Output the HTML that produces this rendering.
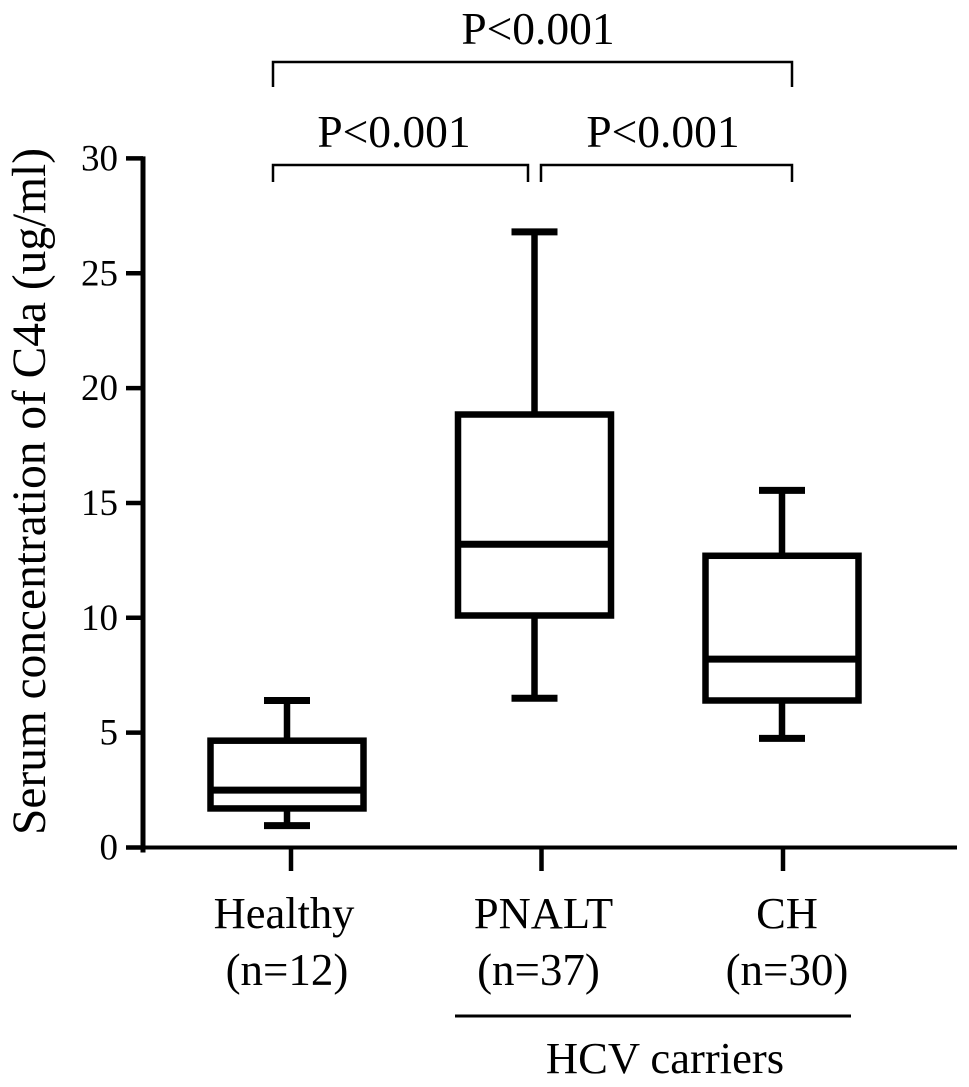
<!DOCTYPE html>
<html><head><meta charset="utf-8"><title>Serum C4a box plot</title>
<style>html,body{margin:0;padding:0;background:#fff}svg{display:block}text{font-family:"Liberation Serif",serif;fill:#000}</style></head>
<body>
<svg id="chart" xmlns="http://www.w3.org/2000/svg" width="969" height="1087" viewBox="0 0 969 1087"></svg>
<script>
const categories = ["Healthy", "PNALT", "CH"];
const sampleLabels = ["(n=12)", "(n=37)", "(n=30)"];
const whiskerLow = [0.95, 6.5, 4.75];
const quartile1 = [1.7, 10.1, 6.4];
const medians = [2.5, 13.2, 8.2];
const quartile3 = [4.65, 18.85, 12.7];
const whiskerHigh = [6.4, 26.8, 15.55];
const yTicks = [0, 5, 10, 15, 20, 25, 30];
const pLabels = ["P<0.001", "P<0.001", "P<0.001"];

const svg = document.getElementById('chart');
const NS = 'http://www.w3.org/2000/svg';
const y = v => 847.5 - v * 22.97;
const x = i => 287 + i * 247.5;
const tickX = i => x(i) + (i === 0 ? 4 : i === 1 ? 7 : 1);
const nameX = i => x(i) + (i === 0 ? -3 : i === 1 ? 9 : 5);
const sampleX = i => x(i) + (i === 0 ? 0 : i === 1 ? 4 : 5);
function add(tag, attrs, name, parent) {
  const el = document.createElementNS(NS, tag);
  for (const k in attrs) el.setAttribute(k, attrs[k]);
  
  
  (parent || svg).appendChild(el);
  return el;
}
function line(x1, y1, x2, y2, w, name, parent) {
  return add('line', {x1, y1, x2, y2, stroke: '#000', 'stroke-width': w}, name, parent);
}
function text(str, tx, ty, size, anchor, name, parent) {
  const t = add('text', {x: tx, y: ty, 'font-size': size, 'text-anchor': anchor}, name, parent);
  t.textContent = str;
  return t;
}

/* axes */
line(143, y(30) - 2, 143, y(0) + 5, 5, 'y-axis-line');
line(126, y(0), 957, y(0), 4, 'x-axis-line');
yTicks.forEach(v => {
  line(126, y(v), 143, y(v), 4.5, 'y-tick-' + v);
  text(String(v), 118, y(v) + 12, 37, 'end', 'y-tick-label-' + v);
});
const yTitle = text('Serum concentration of C4a (ug/ml)', 0, 0, 47.4, 'middle', 'y-axis-title');
yTitle.setAttribute('transform', 'translate(45,491.5) rotate(-90)');

/* boxes */
categories.forEach((c, i) => {
  const g = add('g', {}, 'box-' + c.toLowerCase());
  const cx = x(i), hw = 76.5, cap = 23;
  line(cx, y(whiskerHigh[i]), cx, y(quartile3[i]), 6.5, 'whisker-upper', g);
  line(cx, y(quartile1[i]), cx, y(whiskerLow[i]), 6.5, 'whisker-lower', g);
  line(cx - cap, y(whiskerHigh[i]), cx + cap, y(whiskerHigh[i]), 7, 'cap-upper', g);
  line(cx - cap, y(whiskerLow[i]), cx + cap, y(whiskerLow[i]), 7, 'cap-lower', g);
  add('rect', {x: cx - hw, y: y(quartile3[i]), width: hw * 2, height: y(quartile1[i]) - y(quartile3[i]), fill: 'none', stroke: '#000', 'stroke-width': 6.5}, 'box-iqr', g);
  line(cx - hw, y(medians[i]), cx + hw, y(medians[i]), 7, 'median-line', g);
  line(tickX(i), y(0), tickX(i), 871, 4.5, 'x-tick-' + c.toLowerCase());
  text(c, nameX(i), 928, 44.5, 'middle', 'x-label-' + c.toLowerCase());
  text(sampleLabels[i], sampleX(i), 985, 45, 'middle', 'x-sample-size-' + c.toLowerCase());
});

/* HCV carriers group */
line(455, 1016, 851, 1016, 3, 'hcv-group-line');
text('HCV carriers', 665, 1073, 44.6, 'middle', 'hcv-group-label');

/* significance brackets */
function bracket(x1, x2, top, bottom, label, lx, ly, name) {
  add('path', {d: `M${x1} ${bottom}V${top}H${x2}V${bottom}`, fill: 'none', stroke: '#000', 'stroke-width': 2.5}, name + '-bracket');
  text(label, lx, ly, 45.5, 'middle', name + '-label');
}
bracket(273, 792, 62, 87, pLabels[0], 538, 44, 'p-value-overall');
bracket(273, 528, 165, 182, pLabels[1], 394, 147, 'p-value-healthy-pnalt');
bracket(541, 792, 165, 182, pLabels[2], 663, 147, 'p-value-pnalt-ch');
</script>
</body></html>
